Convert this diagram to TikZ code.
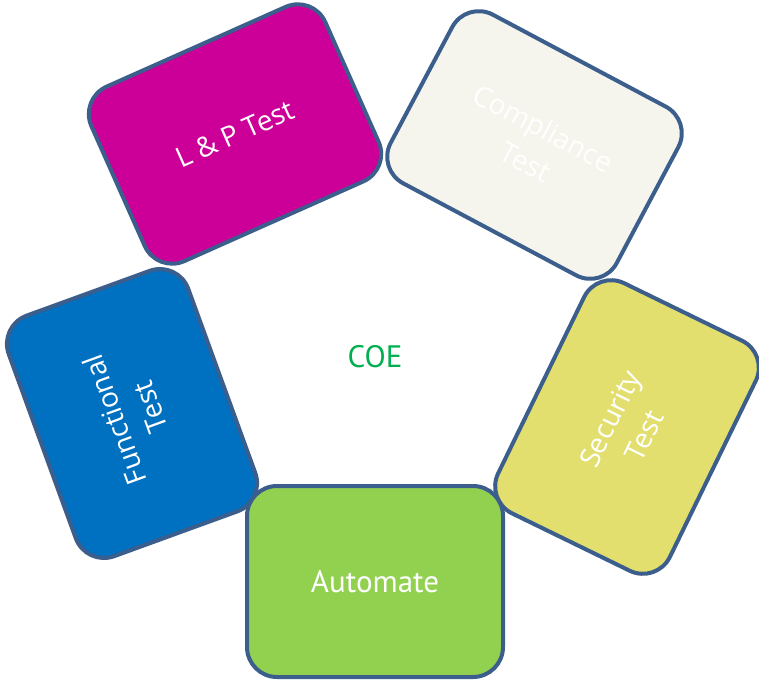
\documentclass[tikz,border=0pt]{standalone}
\usepackage{fontspec}
\setmainfont{Open Sans}
\newfontfamily\labelfont{PT Sans}
\definecolor{tileborder}{RGB}{59,94,140}
\definecolor{lptile}{RGB}{204,0,153}
\definecolor{compliancetile}{RGB}{245,244,237}
\definecolor{securitytile}{RGB}{226,223,110}
\definecolor{functionaltile}{RGB}{0,112,192}
\definecolor{automatetile}{RGB}{146,208,80}
\definecolor{coegreen}{RGB}{0,176,80}

\begin{document}
\begin{tikzpicture} [x=1pt,y=-1pt,
  tile/.style={rectangle,rounded corners=30pt,draw=tileborder,line width=4pt,
    minimum width=256pt,minimum height=191pt,inner sep=0pt,
    text=white,align=center,font=\fontsize{28}{38}\selectfont}]
\useasboundingbox (0,0) rectangle (759,685);
\node (coe) at (375,357) [text=coegreen,font=\labelfont\fontsize{31}{36}\selectfont] {COE};
\node[tile,fill=functionaltile,rotate=110] (functional) at (132,413.5) {Functional\\Test};
\node[tile,fill=compliancetile,rotate=-28] (compliance) at (534.5,145) {Compliance\\Test};
\node[tile,fill=lptile,rotate=24] (lp) at (235,134) {L \& P Test};
\node[tile,fill=securitytile,rotate=64] (security) at (627,427) {Security\\Test};
\node[tile,fill=automatetile,font=\labelfont\fontsize{31}{36}\selectfont] (automate) at (375,581.5) {Automate};
\end{tikzpicture}
\end{document}
